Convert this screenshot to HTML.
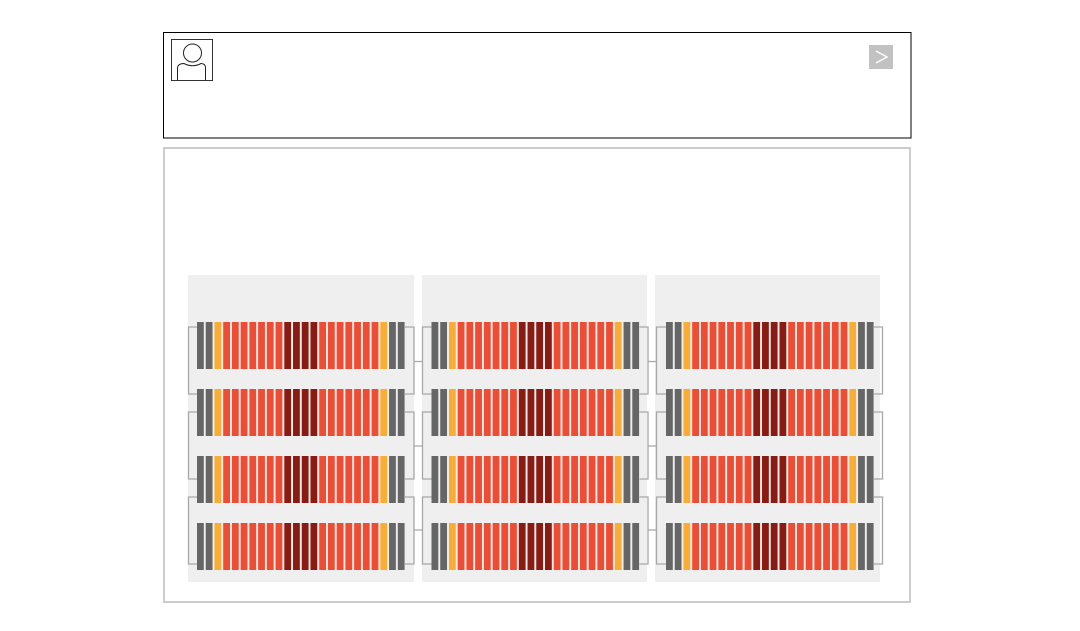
<!DOCTYPE html>
<html>
<head>
<meta charset="utf-8">
<style>
  html, body { margin: 0; padding: 0; background: #ffffff; }
  body { width: 1080px; height: 631px; overflow: hidden; font-family: "Liberation Sans", sans-serif; }
  svg { display: block; }
</style>
</head>
<body>
<svg width="1080" height="631" viewBox="0 0 1080 631" xmlns="http://www.w3.org/2000/svg">
  <defs>
    <g id="row">
      <rect x="0" y="0" width="6.8" height="47" fill="#666666"/>
      <rect x="8.73" y="0" width="6.8" height="47" fill="#666666"/>
      <rect x="17.46" y="0" width="6.8" height="47" fill="#f9ae33"/>
      <rect x="26.19" y="0" width="6.8" height="47" fill="#ef4c34"/>
      <rect x="34.92" y="0" width="6.8" height="47" fill="#ef4c34"/>
      <rect x="43.65" y="0" width="6.8" height="47" fill="#ef4c34"/>
      <rect x="52.38" y="0" width="6.8" height="47" fill="#ef4c34"/>
      <rect x="61.11" y="0" width="6.8" height="47" fill="#ef4c34"/>
      <rect x="69.84" y="0" width="6.8" height="47" fill="#ef4c34"/>
      <rect x="78.57" y="0" width="6.8" height="47" fill="#ef4c34"/>
      <rect x="87.3" y="0" width="6.8" height="47" fill="#8a1b12"/>
      <rect x="96.03" y="0" width="6.8" height="47" fill="#8a1b12"/>
      <rect x="104.76" y="0" width="6.8" height="47" fill="#8a1b12"/>
      <rect x="113.49" y="0" width="6.8" height="47" fill="#8a1b12"/>
      <rect x="122.22" y="0" width="6.8" height="47" fill="#ef4c34"/>
      <rect x="130.95" y="0" width="6.8" height="47" fill="#ef4c34"/>
      <rect x="139.68" y="0" width="6.8" height="47" fill="#ef4c34"/>
      <rect x="148.41" y="0" width="6.8" height="47" fill="#ef4c34"/>
      <rect x="157.14" y="0" width="6.8" height="47" fill="#ef4c34"/>
      <rect x="165.87" y="0" width="6.8" height="47" fill="#ef4c34"/>
      <rect x="174.6" y="0" width="6.8" height="47" fill="#ef4c34"/>
      <rect x="183.33" y="0" width="6.8" height="47" fill="#f9ae33"/>
      <rect x="192.06" y="0" width="6.8" height="47" fill="#666666"/>
      <rect x="200.79" y="0" width="6.8" height="47" fill="#666666"/>
    </g>
  </defs>

  <!-- Top card -->
  <rect x="163.5" y="32.5" width="747.5" height="105.5" fill="#ffffff" stroke="#000000" stroke-width="1"/>
  <!-- Avatar -->
  <rect x="171.5" y="39.5" width="41" height="41" fill="#ffffff" stroke="#333333" stroke-width="1"/>
  <circle cx="192.5" cy="53" r="9" fill="none" stroke="#222222" stroke-width="1"/>
  <path d="M177.5 80.5 V68 Q178 63.5 184 63.5 Q192.5 68 201 63.5 Q205.5 63.5 205.5 68 V80.5" fill="none" stroke="#222222" stroke-width="1"/>
  <!-- Arrow button -->
  <rect x="869" y="45" width="24" height="24" fill="#c2c2c2"/>
  <polyline points="876,51 887,57 876,63" fill="none" stroke="#ffffff" stroke-width="1.4"/>

  <!-- Bottom card -->
  <rect x="164" y="148" width="746" height="454" fill="#ffffff" stroke="#cccccc" stroke-width="2"/>

  <!-- Panel backgrounds -->
  <rect x="188" y="275" width="226" height="307" fill="#efefef"/>
  <rect x="422" y="275" width="225" height="307" fill="#efefef"/>
  <rect x="655" y="275" width="225" height="307" fill="#efefef"/>

  <!-- Brackets -->
  <g fill="none" stroke="#a8a8a8" stroke-width="1.3">
    <path d="M197 327 H188.5 V394 H197 M197 412 H188.5 V479 H197 M197 497 H188.5 V564 H197"/>
    <path d="M405 327 H414 V394 H405 M405 412 H414 V479 H405 M405 497 H414 V564 H405"/>
    <path d="M431.5 327 H422.5 V394 H431.5 M431.5 412 H422.5 V479 H431.5 M431.5 497 H422.5 V564 H431.5"/>
    <path d="M639.5 327 H648 V394 H639.5 M639.5 412 H648 V479 H639.5 M639.5 497 H648 V564 H639.5"/>
    <path d="M666 327 H656.5 V394 H666 M666 412 H656.5 V479 H666 M666 497 H656.5 V564 H666"/>
    <path d="M874 327 H882.5 V394 H874 M874 412 H882.5 V479 H874 M874 497 H882.5 V564 H874"/>
    <path d="M414 361.5 H422.5 M414 446 H422.5 M414 530 H422.5"/>
    <path d="M648 361.5 H656.5 M648 446 H656.5 M648 530 H656.5"/>
  </g>

  <!-- Bars -->
  <use href="#row" x="197" y="322"/>
  <use href="#row" x="197" y="389"/>
  <use href="#row" x="197" y="456"/>
  <use href="#row" x="197" y="523"/>

  <use href="#row" x="431.5" y="322"/>
  <use href="#row" x="431.5" y="389"/>
  <use href="#row" x="431.5" y="456"/>
  <use href="#row" x="431.5" y="523"/>

  <use href="#row" x="666" y="322"/>
  <use href="#row" x="666" y="389"/>
  <use href="#row" x="666" y="456"/>
  <use href="#row" x="666" y="523"/>
</svg>
</body>
</html>
